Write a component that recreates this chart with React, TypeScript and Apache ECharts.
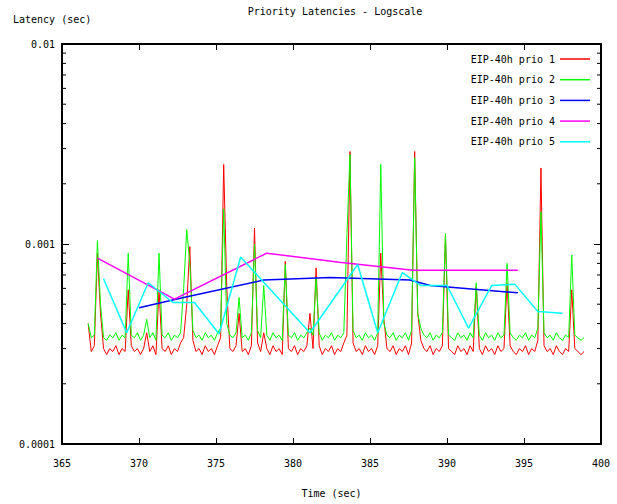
import React, { useEffect, useRef } from "react";
import * as echarts from "echarts";

// ---- data (latencies in units of 1e-4 s) ----
const UNIT = 1e-4;
const TIME_START = 366.7; // s, first sample of the dense series
const TIME_STEP = 0.2; // s, sampling step of the dense series

const PRIO1 = [
  4.0, 2.9, 3.1, 9.0, 4.5, 3.0, 2.8, 3.0, 2.9, 3.1,
  2.8, 3.0, 2.9, 5.9, 3.1, 2.9, 3.0, 2.8, 3.0, 3.6,
  2.9, 3.1, 2.8, 5.9, 3.0, 2.9, 3.1, 2.8, 3.0, 2.9,
  3.2, 3.4, 5.0, 9.7, 3.3, 2.9, 3.0, 2.8, 3.1, 2.9,
  3.0, 2.8, 3.1, 3.4, 25, 6.0, 3.0, 2.9, 3.1, 4.5,
  2.9, 3.0, 2.8, 3.1, 12, 3.2, 2.9, 3.6, 3.0, 2.8,
  3.1, 2.9, 3.0, 2.8, 8.2, 3.0, 2.9, 3.1, 2.8, 3.0,
  2.9, 3.1, 4.5, 3.0, 7.6, 3.1, 2.8, 3.0, 2.9, 3.1,
  2.8, 3.0, 2.9, 3.2, 3.5, 29, 3.2, 2.9, 3.0, 2.8,
  3.1, 2.9, 3.0, 2.8, 3.1, 9.0, 4.2, 3.0, 2.9, 3.1,
  2.8, 3.0, 2.9, 3.1, 2.8, 3.2, 29, 4.5, 3.3, 3.0,
  2.9, 3.1, 2.8, 3.0, 2.9, 3.1, 11, 3.0, 2.9, 2.8,
  3.1, 2.9, 3.0, 2.8, 3.1, 2.9, 6.2, 3.0, 2.8, 3.1,
  2.9, 3.0, 2.8, 3.1, 2.9, 3.0, 6.4, 3.1, 2.9, 2.8,
  3.0, 2.9, 3.1, 2.8, 3.0, 2.9, 3.3, 24, 3.1, 2.9,
  3.0, 2.8, 3.1, 2.9, 2.8, 3.0, 2.9, 5.9, 3.0, 2.9,
  2.8, 2.9,
];

const PRIO2 = [
  4.0, 3.4, 3.5, 10.4, 5.0, 3.4, 3.3, 3.5, 3.4, 3.6,
  3.3, 3.5, 3.4, 9.0, 3.5, 3.4, 3.6, 3.3, 3.5, 4.2,
  3.4, 3.6, 3.3, 9.0, 3.5, 3.4, 3.6, 3.3, 3.5, 3.4,
  3.6, 6.0, 11.8, 8.0, 3.7, 3.4, 3.5, 3.3, 3.6, 3.4,
  3.5, 3.3, 3.6, 3.8, 15, 4.0, 3.5, 3.4, 3.6, 5.4,
  3.4, 3.5, 3.3, 3.6, 10, 3.7, 3.4, 6.2, 3.5, 3.3,
  3.6, 3.4, 3.5, 3.3, 7.9, 3.5, 3.4, 3.6, 3.3, 3.5,
  3.4, 3.6, 3.8, 3.5, 6.8, 3.6, 3.3, 3.5, 3.4, 3.6,
  3.3, 3.5, 3.4, 3.6, 11, 28, 3.7, 3.4, 3.5, 3.3,
  3.6, 3.4, 3.5, 3.3, 3.6, 25, 4.0, 3.5, 3.4, 3.6,
  3.3, 3.5, 3.4, 3.6, 3.3, 3.7, 27, 4.5, 3.8, 3.5,
  3.4, 3.6, 3.3, 3.5, 3.4, 3.6, 11.3, 3.5, 3.4, 3.3,
  3.6, 3.4, 3.5, 3.3, 3.6, 3.4, 6.4, 3.5, 3.3, 3.6,
  3.4, 3.5, 3.3, 3.6, 3.4, 3.5, 8.0, 3.6, 3.4, 3.3,
  3.5, 3.4, 3.6, 3.3, 3.5, 3.4, 3.8, 14.5, 3.6, 3.4,
  3.5, 3.3, 3.6, 3.4, 3.3, 3.5, 3.4, 8.8, 3.5, 3.4,
  3.3, 3.4,
];

const PRIO3_TIME = [370.0, 372.9, 378.1, 382.4, 387.6, 388.9, 394.6];
const PRIO3 = [4.8, 5.4, 6.6, 6.8, 6.6, 6.2, 5.7];

const PRIO4_TIME = [367.3, 372.3, 378.3, 383.0, 387.8, 394.6];
const PRIO4 = [8.5, 5.3, 9.0, 8.1, 7.4, 7.4];

const PRIO5_TIME = [
  367.7, 369.2, 370.6, 372.2, 373.6, 375.2, 376.6, 381.1, 384.2,
  385.5, 387.1, 388.3, 390.0, 391.4, 392.9, 394.4, 395.9, 397.5,
];
const PRIO5 = [
  6.7, 3.6, 6.4, 5.1, 5.1, 3.55, 8.6, 3.6, 7.9,
  3.6, 7.2, 6.2, 6.2, 3.8, 6.2, 6.3, 4.6, 4.5,
];

const SERIES_NAMES = [
  "EIP-40h prio 1",
  "EIP-40h prio 2",
  "EIP-40h prio 3",
  "EIP-40h prio 4",
  "EIP-40h prio 5",
];
const SERIES_COLORS = ["#ff0000", "#00ff00", "#0000ff", "#ff00ff", "#00ffff"];

const X_MIN = 365;
const X_MAX = 400;
const X_INTERVAL = 5;
const Y_MIN = 0.0001;
const Y_MAX = 0.01;
const Y_TICK_LABELS: Record<string, string> = {
  "-4": "0.0001",
  "-3": "0.001",
  "-2": "0.01",
};
const Y_MINOR_TICKS = [
  0.0002, 0.0003, 0.0004, 0.0005, 0.0006, 0.0007, 0.0008, 0.0009,
  0.002, 0.003, 0.004, 0.005, 0.006, 0.007, 0.008, 0.009,
];

const TITLE = "Priority Latencies - Logscale";
const Y_NAME = "Latency (sec)";
const X_NAME = "Time (sec)";

const FONT = "'DejaVu Sans Mono', 'Liberation Mono', monospace";

function dense(values: number[]) {
  return values.map((v, i) => [+(TIME_START + i * TIME_STEP).toFixed(2), v * UNIT]);
}
function sparse(times: number[], values: number[]) {
  return times.map((t, i) => [t, values[i] * UNIT]);
}

export default function App() {
  const ref = useRef<HTMLDivElement>(null);

  useEffect(() => {
    if (!ref.current) return;
    const chart = echarts.init(ref.current, undefined, { renderer: "svg" });

    const seriesData = [
      dense(PRIO1),
      dense(PRIO2),
      sparse(PRIO3_TIME, PRIO3),
      sparse(PRIO4_TIME, PRIO4),
      sparse(PRIO5_TIME, PRIO5),
    ];
    const widths = [1, 1, 1.5, 1.5, 1.5];

    const axisLine = { show: true, lineStyle: { color: "#000", width: 2 } };
    const label = { color: "#000", fontFamily: FONT, fontSize: 10 };

    const option: any = {
      animation: false,
      backgroundColor: "#fff",
      title: [
        {
          text: TITLE,
          left: 335,
          top: 6,
          textAlign: "center",
          padding: 0,
          textStyle: { ...label, fontWeight: "normal" },
        },
        {
          text: Y_NAME,
          left: 13,
          top: 14,
          padding: 0,
          textStyle: { ...label, fontWeight: "normal" },
        },
      ],
      legend: {
        data: SERIES_NAMES.map((name) => ({ name, icon: "rect" })),
        orient: "vertical",
        right: 27,
        top: 54,
        padding: 0,
        align: "right",
        itemWidth: 30,
        itemHeight: 1.5,
        itemGap: 10.7,
        textStyle: label,
      },
      grid: { left: 62, right: 16, top: 44, bottom: 60, show: false },
      xAxis: [
        {
          type: "value",
          min: X_MIN,
          max: X_MAX,
          interval: X_INTERVAL,
          position: "bottom",
          axisLine: { ...axisLine, onZero: false },
          axisTick: { show: true, inside: true, length: 6, lineStyle: { color: "#000" } },
          axisLabel: { ...label, margin: 14 },
          splitLine: { show: false },
          name: X_NAME,
          nameLocation: "middle",
          nameGap: 44,
          nameTextStyle: label,
        },
        {
          type: "value",
          min: X_MIN,
          max: X_MAX,
          interval: X_INTERVAL,
          position: "top",
          axisLine: { ...axisLine, onZero: false },
          axisTick: { show: true, inside: true, length: 6, lineStyle: { color: "#000" } },
          axisLabel: { show: false },
          splitLine: { show: false },
        },
      ],
      yAxis: [
        {
          type: "log",
          logBase: 10,
          min: Y_MIN,
          max: Y_MAX,
          position: "left",
          axisLine,
          axisTick: { show: true, inside: true, length: 7, lineStyle: { color: "#000" } },
          axisLabel: {
            ...label,
            margin: 7,
            formatter: (v: number) => Y_TICK_LABELS[String(Math.round(Math.log10(v)))] ?? "",
          },
          splitLine: { show: false },
        },
        {
          type: "log",
          logBase: 10,
          min: Y_MIN,
          max: Y_MAX,
          position: "right",
          axisLine,
          axisTick: { show: true, inside: true, length: 7, lineStyle: { color: "#000" } },
          axisLabel: { show: false },
          splitLine: { show: false },
        },
      ],
      series: [
        ...SERIES_NAMES.map((name, i) => ({
          name,
          type: "line",
          data: seriesData[i],
          symbol: "none",
          showSymbol: false,
          color: SERIES_COLORS[i],
          itemStyle: { color: SERIES_COLORS[i] },
          lineStyle: { color: SERIES_COLORS[i], width: widths[i] },
          silent: true,
          z: 2 + i,
        })),
        {
          type: "custom",
          silent: true,
          clip: false,
          z: 10,
          data: Y_MINOR_TICKS.map((v) => [X_MIN, v]),
          renderItem: (_params: any, api: any) => {
            const v = api.value(1);
            const l = api.coord([X_MIN, v]);
            const r = api.coord([X_MAX, v]);
            return {
              type: "group",
              children: [
                {
                  type: "line",
                  shape: { x1: l[0], y1: l[1], x2: l[0] + 4, y2: l[1] },
                  style: { stroke: "#000", lineWidth: 1 },
                },
                {
                  type: "line",
                  shape: { x1: r[0] - 4, y1: r[1], x2: r[0], y2: r[1] },
                  style: { stroke: "#000", lineWidth: 1 },
                },
              ],
            };
          },
        },
      ],
    };

    chart.setOption(option);
    return () => chart.dispose();
  }, []);

  return (
    <div
      ref={ref}
      style={{ position: "fixed", left: 0, top: 0, width: 617, height: 504, background: "#fff" }}
    />
  );
}
